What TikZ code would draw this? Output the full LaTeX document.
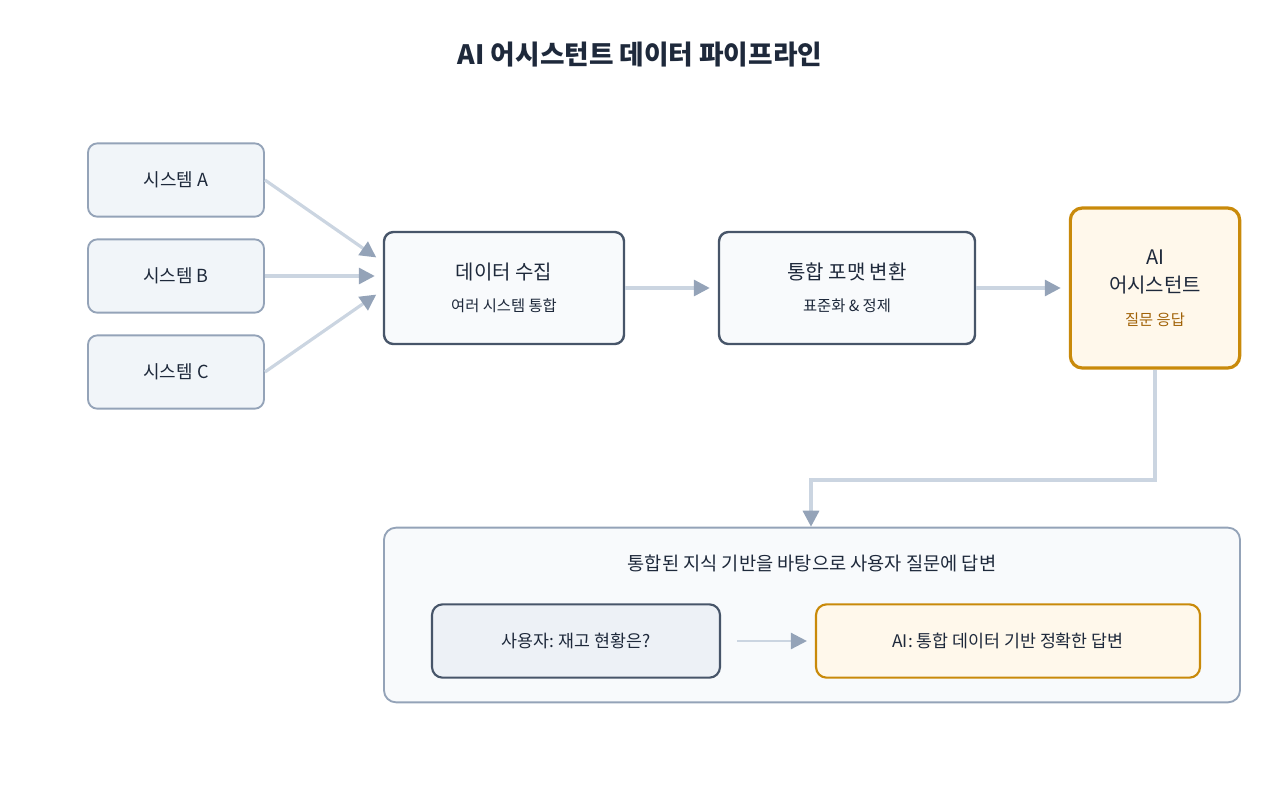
\documentclass[tikz,border=0pt]{standalone}
\usepackage{fontspec}
\setmainfont{Noto Sans CJK KR}
\usetikzlibrary{arrows.meta}
\definecolor{ink}{HTML}{1E293B}
\definecolor{slate}{HTML}{475569}
\definecolor{grayline}{HTML}{94A3B8}
\definecolor{paleline}{HTML}{CBD5E1}
\definecolor{gold}{HTML}{C98A0A}
\definecolor{golddark}{HTML}{A16207}
\definecolor{cream}{HTML}{FFF8EB}
\definecolor{sysfill}{HTML}{F1F5F9}
\definecolor{stepfill}{HTML}{F8FAFC}
\definecolor{askfill}{HTML}{EDF1F6}
\newcommand{\subfs}{\fontsize{11.5}{14}\selectfont}
\begin{document}
\begin{tikzpicture}[
    x = 0.75pt, y = -0.75pt,
    > = {Triangle[length=12pt,width=12pt,color=grayline]},
    flow/.style={->, draw=paleline, line width=2.4pt, shorten >=6pt},
    sys node/.style={draw=grayline, fill=sysfill, line width=1.4pt, rounded corners=7pt,
      minimum width=132pt, minimum height=55pt, font=\fontsize{13.5}{16}\selectfont, text=ink},
    step node/.style={draw=slate, fill=stepfill, line width=1.8pt, rounded corners=7pt,
      minimum width=180pt, minimum height=84pt, text=ink, align=center,
      font=\fontsize{15}{18}\selectfont},
    ai node/.style={draw=gold, fill=cream, line width=2.4pt, rounded corners=9pt,
      minimum width=127pt, minimum height=120pt, text=ink, align=center,
      font=\fontsize{15}{21}\selectfont}
  ]
  \useasboundingbox (0,0) rectangle (1280,800);

  % Title
  \node[font=\fontsize{20}{24}\selectfont\bfseries, text=ink] (title) at (640,55) {AI 어시스턴트 데이터 파이프라인};

  % Sources
  \node[sys node] (sysA) at (176,180) {시스템 A};
  \node[sys node] (sysB) at (176,276) {시스템 B};
  \node[sys node] (sysC) at (176,372) {시스템 C};

  % Pipeline
  \node[step node, minimum width=180pt] (collect) at (504,288)
    {데이터 수집\\[6pt]{\subfs 여러 시스템 통합}};
  \node[step node, minimum width=192pt] (convert) at (847,288)
    {통합 포맷 변환\\[6pt]{\subfs 표준화 \& 정제}};
  \node[ai node] (assist) at (1155,288)
    {AI\\어시스턴트\\[4pt]{\subfs\color{golddark} 질문 응답}};

  % Result panel
  \node[draw=grayline, fill=stepfill, line width=1.4pt, rounded corners=9pt,
    minimum width=642pt, minimum height=131pt] (panel) at (812,615) {};
  \node[font=\fontsize{14}{16}\selectfont, text=ink] (caption) at (812,563)
    {통합된 지식 기반을 바탕으로 사용자 질문에 답변};
  \node[draw=slate, fill=askfill, line width=1.6pt, rounded corners=8pt,
    minimum width=216pt, minimum height=55pt, text=ink, font=\fontsize{13}{15}\selectfont]
    (ask) at (576,641) {사용자: 재고 현황은?};
  \node[draw=gold, fill=cream, line width=1.6pt, rounded corners=8pt,
    minimum width=288pt, minimum height=55pt, text=ink, font=\fontsize{13}{15}\selectfont]
    (answer) at (1008,641) {AI: 통합 데이터 기반 정확한 답변};

  % Edges
  \draw[flow] (sysA.east) -- ([yshift=19.5pt]collect.west);
  \draw[flow] (sysB.east) -- ([yshift=9pt]collect.west);
  \draw[flow] (sysC.east) -- ([yshift=-1.5pt]collect.west);
  \draw[flow] (collect.east) -- (convert.west);
  \draw[flow] (convert.east) -- (assist.west);
  \draw[flow, shorten >=0pt] (assist.south) |- (811,480) -- (panel.north -| 811,0);
  \draw[flow, line width=1.8pt, shorten <=12pt] (ask.east) -- (answer.west);
\end{tikzpicture}
\end{document}
